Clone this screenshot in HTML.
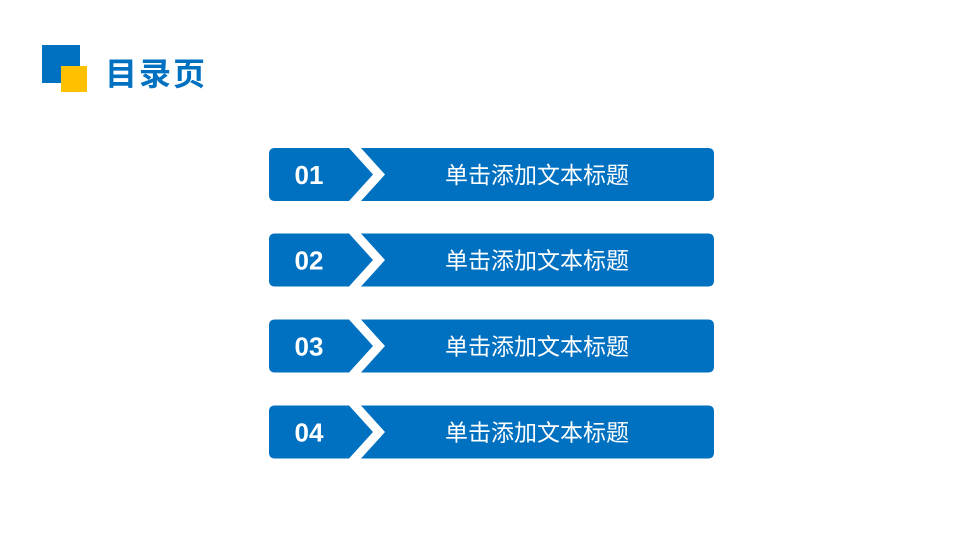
<!DOCTYPE html>
<html><head><meta charset="utf-8"><style>
body{margin:0;width:960px;height:540px;background:#fff;position:relative;overflow:hidden;font-family:"Liberation Sans","Noto Sans CJK SC",sans-serif}
.t{position:absolute;left:105px;top:54px;font-size:32px;line-height:40px;font-weight:bold;color:#0070c0;letter-spacing:2px}
</style></head><body>
<div style="position:absolute;left:42px;top:45px;width:38px;height:38px;background:#0070c0"></div>
<div style="position:absolute;left:61px;top:66px;width:26px;height:26px;background:#ffc000"></div>
<div class="t">目录页</div>
<svg width="960" height="540" style="position:absolute;left:0;top:0">
<g font-family="Liberation Sans, Noto Sans CJK SC, sans-serif" fill="#fff">
<g transform="translate(0,148)">
<path d="M275 0H349L373 26.5L349 53H275Q269 53 269 47V6Q269 0 275 0Z" fill="#0070c0"/>
<path d="M361 0H708Q714 0 714 6V47Q714 53 708 53H361L385 26.5Z" fill="#0070c0"/>
<text x="309" y="36" font-size="26" font-weight="bold" text-anchor="middle">01</text>
<text x="537" y="35" font-size="23" text-anchor="middle">单击添加文本标题</text></g>
<g transform="translate(0,233.5)">
<path d="M275 0H349L373 26.5L349 53H275Q269 53 269 47V6Q269 0 275 0Z" fill="#0070c0"/>
<path d="M361 0H708Q714 0 714 6V47Q714 53 708 53H361L385 26.5Z" fill="#0070c0"/>
<text x="309" y="36" font-size="26" font-weight="bold" text-anchor="middle">02</text>
<text x="537" y="35" font-size="23" text-anchor="middle">单击添加文本标题</text></g>
<g transform="translate(0,319.5)">
<path d="M275 0H349L373 26.5L349 53H275Q269 53 269 47V6Q269 0 275 0Z" fill="#0070c0"/>
<path d="M361 0H708Q714 0 714 6V47Q714 53 708 53H361L385 26.5Z" fill="#0070c0"/>
<text x="309" y="36" font-size="26" font-weight="bold" text-anchor="middle">03</text>
<text x="537" y="35" font-size="23" text-anchor="middle">单击添加文本标题</text></g>
<g transform="translate(0,405.5)">
<path d="M275 0H349L373 26.5L349 53H275Q269 53 269 47V6Q269 0 275 0Z" fill="#0070c0"/>
<path d="M361 0H708Q714 0 714 6V47Q714 53 708 53H361L385 26.5Z" fill="#0070c0"/>
<text x="309" y="36" font-size="26" font-weight="bold" text-anchor="middle">04</text>
<text x="537" y="35" font-size="23" text-anchor="middle">单击添加文本标题</text></g>
</g></svg>
</body></html>
